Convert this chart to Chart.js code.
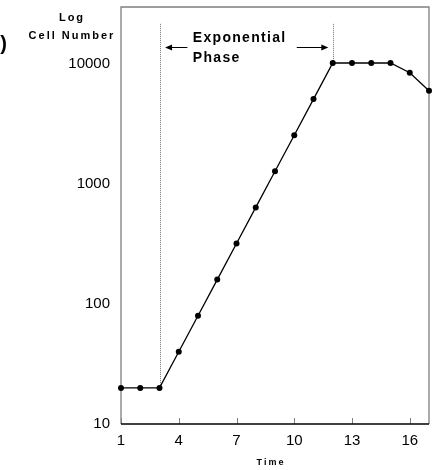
<!DOCTYPE html>
<html>
<head>
<meta charset="utf-8">
<script src="https://cdn.jsdelivr.net/npm/chart.js@4.4.1/dist/chart.umd.min.js"></script>
<style>
  html, body { margin: 0; padding: 0; background: #fff; }
  #wrap { width: 436px; height: 470px; }
</style>
</head>
<body>
<div id="wrap"><canvas id="growthChart" width="436" height="470"></canvas></div>
<script>
// growth curve values
const times = [1, 2, 3, 4, 5, 6, 7, 8, 9, 10, 11, 12, 13, 14, 15, 16, 17];
const cellCounts = [20, 20, 20, 40, 80, 160, 320, 640, 1280, 2560, 5120, 10240, 10240, 10240, 10240, 8500, 6000];
const xTickValues = [1, 4, 7, 10, 13, 16];
const yTickValues = [10, 100, 1000, 10000];
const phaseBounds = [3, 12];
const phaseLabel = ['Exponential', 'Phase'];

const FONT = 'Arial, "Liberation Sans", sans-serif';

// frame, inner ticks, phase markers and titles
const decorPlugin = {
  id: 'decor',
  beforeDatasetsDraw(chart) {
    const { ctx, chartArea: a, scales: { x, y } } = chart;
    ctx.save();
    // gray box
    ctx.strokeStyle = '#7f7f7f';
    ctx.lineWidth = 1.3;
    ctx.beginPath();
    ctx.moveTo(a.left, a.bottom);
    ctx.lineTo(a.left, a.top);
    ctx.lineTo(a.right, a.top);
    ctx.lineTo(a.right, a.bottom);
    ctx.stroke();
    // inward x ticks
    ctx.lineWidth = 1;
    xTickValues.forEach(v => {
      const px = Math.round(x.getPixelForValue(v)) + 0.5;
      ctx.beginPath();
      ctx.moveTo(px, a.bottom);
      ctx.lineTo(px, a.bottom - 6);
      ctx.stroke();
    });
    // black x axis
    ctx.strokeStyle = '#000';
    ctx.lineWidth = 1.3;
    ctx.beginPath();
    ctx.moveTo(a.left, a.bottom);
    ctx.lineTo(a.right, a.bottom);
    ctx.stroke();

    // dotted phase bounds
    const topY = y.getPixelForValue(21700);
    ctx.strokeStyle = '#777';
    ctx.lineWidth = 1;
    ctx.setLineDash([1, 1]);
    phaseBounds.forEach(t => {
      const px = Math.round(x.getPixelForValue(t)) + 0.5;
      const bottom = y.getPixelForValue(cellCounts[times.indexOf(t)]);
      ctx.beginPath();
      ctx.moveTo(px, topY);
      ctx.lineTo(px, bottom);
      ctx.stroke();
    });
    ctx.setLineDash([]);

    // arrows
    const arrowY = Math.round(y.getPixelForValue(14000)) + 0.5;
    const arrow = (from, to) => {
      const x0 = x.getPixelForValue(from), x1 = x.getPixelForValue(to);
      const dir = Math.sign(x1 - x0);
      ctx.strokeStyle = '#000';
      ctx.fillStyle = '#000';
      ctx.lineWidth = 1;
      ctx.beginPath();
      ctx.moveTo(x0, arrowY);
      ctx.lineTo(x1 - dir * 5, arrowY);
      ctx.stroke();
      ctx.beginPath();
      ctx.moveTo(x1, arrowY);
      ctx.lineTo(x1 - dir * 7, arrowY - 3);
      ctx.lineTo(x1 - dir * 7, arrowY + 3);
      ctx.closePath();
      ctx.fill();
    };
    arrow(4.45, 3.29);
    arrow(10.13, 11.77);

    // phase label
    ctx.fillStyle = '#000';
    ctx.font = 'bold 14px ' + FONT;
    ctx.letterSpacing = '1.3px';
    ctx.textAlign = 'left';
    ctx.textBaseline = 'alphabetic';
    const lx = x.getPixelForValue(4.73);
    ctx.fillText(phaseLabel[0], lx, y.getPixelForValue(15400));
    ctx.fillText(phaseLabel[1], lx, y.getPixelForValue(10500));

    // axis titles
    ctx.font = 'bold 11px ' + FONT;
    ctx.letterSpacing = '2px';
    ctx.textAlign = 'center';
    ctx.fillText('Log', 72, 21);
    ctx.fillText('Cell Number', 72, 39);
    ctx.font = 'bold 9px ' + FONT;
    ctx.letterSpacing = '2px';
    ctx.fillText('Time', 271, 465);

    // clipped panel letter
    ctx.font = 'bold 20px ' + FONT;
    ctx.letterSpacing = '0px';
    ctx.textAlign = 'right';
    ctx.fillText(')', 7, 50);
    ctx.restore();
  }
};

new Chart(document.getElementById('growthChart'), {
  type: 'line',
  data: {
    labels: times,
    datasets: [{
      data: times.map((t, i) => ({ x: t, y: cellCounts[i] })),
      borderColor: '#000',
      borderWidth: 1.3,
      pointRadius: 3,
      pointBackgroundColor: '#000',
      pointBorderColor: '#000',
      pointBorderWidth: 0,
      tension: 0,
      clip: false
    }]
  },
  options: {
    responsive: false,
    animation: false,
    events: [],
    layout: { padding: { left: 0, right: 7, top: 7, bottom: 0 } },
    plugins: { legend: { display: false }, tooltip: { enabled: false } },
    scales: {
      x: {
        type: 'linear',
        min: 1,
        max: 17,
        grid: { display: false, drawTicks: false },
        border: { display: false },
        afterBuildTicks: s => { s.ticks = xTickValues.map(v => ({ value: v })); },
        afterFit: s => { s.height = 46; s.paddingLeft = 0; s.paddingRight = 0; },
        ticks: {
          color: '#000',
          padding: 8,
          maxRotation: 0,
          autoSkip: false,
          font: { family: FONT, size: 15 },
          callback: v => String(v)
        }
      },
      y: {
        type: 'logarithmic',
        min: 10,
        max: 30000,
        grid: { display: false, drawTicks: false },
        border: { display: false },
        afterBuildTicks: s => { s.ticks = yTickValues.map(v => ({ value: v })); },
        afterFit: s => { s.width = 121; s.paddingTop = 0; s.paddingBottom = 0; },
        ticks: {
          color: '#000',
          padding: 11,
          autoSkip: false,
          font: { family: FONT, size: 15 },
          callback: v => String(v)
        }
      }
    }
  },
  plugins: [decorPlugin]
});
</script>
</body>
</html>
